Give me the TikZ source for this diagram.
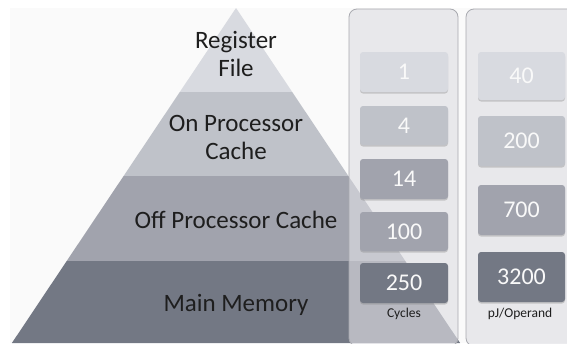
\documentclass[tikz,border=0pt]{standalone}
\usepackage{fontspec}
\setmainfont{Carlito}
\usetikzlibrary{shadows}
\definecolor{lay1}{HTML}{D8DAE0}
\definecolor{lay2}{HTML}{BFC2C9}
\definecolor{lay3}{HTML}{A1A3AD}
\definecolor{lay4}{HTML}{737884}
\definecolor{txt}{HTML}{1E1E1E}
\definecolor{panelfill}{HTML}{DFDFE4}
\definecolor{panelline}{HTML}{A8A9AF}
\tikzset{
  laytext/.style={text=txt, align=center, font=\fontsize{25}{28}\selectfont, inner sep=0pt},
  valbox/.style={rounded corners=3pt, minimum width=88pt, text=white!95!gray,
     font=\fontsize{24}{26}\selectfont, inner sep=0pt,
     drop shadow={shadow xshift=0pt, shadow yshift=-1.5pt, opacity=0.35}},
  panel/.style={draw=panelline, line width=0.8pt, fill=panelfill, fill opacity=0.64, rounded corners=8pt},
  unitlabel/.style={text=txt, font=\fontsize{13.5}{15}\selectfont, inner sep=0pt}
}
\begin{document}
\begin{tikzpicture}[x=1pt,y=-1pt]
\useasboundingbox (0,0) rectangle (567,343);
\fill[white] (0,0) rectangle (567,343);
\fill[black!2] (10,8) rectangle (567,343);
% pyramid layers
\fill[lay1] (236,8) -- (292.2,92) -- (179.8,92) -- cycle;
\fill[lay2] (179.8,92) -- (292.2,92) -- (348.4,176) -- (123.6,176) -- cycle;
\fill[lay3] (123.6,176) -- (348.4,176) -- (405.3,261) -- (66.7,261) -- cycle;
\fill[lay4] (66.7,261) -- (405.3,261) -- (460.1,343) -- (11.9,343) -- cycle;
\node[laytext] (reg) at (236,53.5) {Register\\File};
\node[laytext] (onp) at (236,137.5) {On Processor\\Cache};
\node[laytext] (offp) at (236,220) {Off Processor Cache};
\node[laytext] (mm) at (236,305) {Main Memory};
% panels
\draw[panel] (349,9) rectangle (458,346);
\draw[panel] (466,9) rectangle (575,346);
% cycles boxes
\node[valbox, fill=lay1, minimum height=40pt] (c1) at (404,72) {1};
\node[valbox, fill=lay2, minimum height=39pt] (c4) at (404,125.5) {4};
\node[valbox, fill=lay3, minimum height=40pt] (c14) at (404,179) {14};
\node[valbox, fill=lay3, minimum height=39pt] (c100) at (404,231.5) {100};
\node[valbox, fill=lay4, minimum height=40pt] (c250) at (404,283) {250};
\node[unitlabel] (cyc) at (404,314) {Cycles};
% energy boxes
\node[valbox, fill=lay1, minimum height=48pt, minimum width=87pt] (e40) at (521.5,76) {40};
\node[valbox, fill=lay2, minimum height=50pt, minimum width=87pt] (e200) at (521.5,141) {200};
\node[valbox, fill=lay3, minimum height=50pt, minimum width=87pt] (e700) at (521.5,210) {700};
\node[valbox, fill=lay4, minimum height=50pt, minimum width=87pt] (e3200) at (521.5,277) {3200};
\node[unitlabel] (pj) at (520,314) {pJ/Operand};
\end{tikzpicture}
\end{document}
